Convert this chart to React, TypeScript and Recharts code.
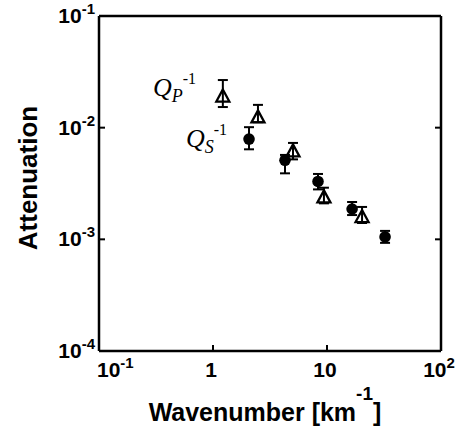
import React from 'react';
import { ScatterChart, Scatter, XAxis, YAxis, ErrorBar } from 'recharts';

// Q_P^-1 (open triangles)
const pWavenumber = [1.22, 2.48, 5.03, 9.4, 20.3];
const pAtten = [0.0192, 0.0125, 0.0062, 0.0024, 0.0016];
const pUpper = [0.0267, 0.016, 0.0073, 0.0029, 0.00195];
const pLower = [0.0153, 0.0112, 0.0052, 0.0021, 0.0014];

// Q_S^-1 (filled circles)
const sWavenumber = [2.07, 4.28, 8.34, 16.6, 32.3];
const sAtten = [0.0079, 0.0051, 0.0033, 0.00187, 0.00105];
const sUpper = [0.0101, 0.0057, 0.00385, 0.00216, 0.00119];
const sLower = [0.0064, 0.0039, 0.0028, 0.00165, 0.00093];

const xTicks = [0.1, 1, 10, 100];
const xTickBase = ['10', '1', '10', '10'];
const xTickSup = ['-1', '', '', '2'];
const yTicks = [0.0001, 0.001, 0.01, 0.1];
const yTickBase = ['10', '10', '10', '10'];
const yTickSup = ['-4', '-3', '-2', '-1'];

const pData = pWavenumber.map((k, i) => ({
  k,
  a: pAtten[i],
  err: [pAtten[i] - pLower[i], pUpper[i] - pAtten[i]],
}));
const sData = sWavenumber.map((k, i) => ({
  k,
  a: sAtten[i],
  err: [sAtten[i] - sLower[i], sUpper[i] - sAtten[i]],
}));

const SANS = '"Liberation Sans", Arial, Helvetica, sans-serif';
const SERIF = '"Liberation Serif", "Times New Roman", serif';

const BottomTick = ({ x, y, payload }: any) => {
  const i = xTicks.indexOf(payload.value);
  const first = i === 0;
  return (
    <g>
      <line x1={x} y1={y} x2={x} y2={y - 6} stroke="#000" strokeWidth={2} />
      <text
        x={first ? x - 2 : x - 2}
        y={y + 26}
        textAnchor={first ? 'start' : 'middle'}
        fontFamily={SANS}
        fontWeight="bold"
        fontSize={21}
        fill="#000"
      >
        {xTickBase[i]}
        {xTickSup[i] && (
          <tspan dy={-9} fontSize={15}>
            {xTickSup[i]}
          </tspan>
        )}
      </text>
    </g>
  );
};

const LeftTick = ({ x, y, payload }: any) => {
  const i = yTicks.indexOf(payload.value);
  return (
    <g>
      <line x1={x} y1={y} x2={x + 6} y2={y} stroke="#000" strokeWidth={2} />
      <text x={x - 4} y={y + 7} textAnchor="end" fontFamily={SANS} fontWeight="bold" fontSize={21} fill="#000">
        {yTickBase[i]}
        <tspan dy={-9} fontSize={15}>
          {yTickSup[i]}
        </tspan>
      </text>
    </g>
  );
};

const TopTick = ({ x, y }: any) => (
  <line x1={x} y1={y} x2={x} y2={y + 6} stroke="#000" strokeWidth={2} />
);

const RightTick = ({ x, y }: any) => (
  <line x1={x} y1={y} x2={x - 6} y2={y} stroke="#000" strokeWidth={2} />
);

const Triangle = (props: any) => {
  const { cx, cy } = props;
  return (
    <path
      d={`M${cx},${cy - 6.5}L${cx + 6.5},${cy + 5.5}L${cx - 6.5},${cy + 5.5}Z`}
      fill="none"
      stroke="#000"
      strokeWidth={2.3}
      strokeLinejoin="miter"
    />
  );
};

const Dot = (props: any) => {
  const { cx, cy } = props;
  return <circle cx={cx} cy={cy} r={5.8} fill="#000" />;
};

const frame = { stroke: '#000', strokeWidth: 2.5 };

export default function App() {
  return (
    <div style={{ position: 'absolute', left: 0, top: 0, width: 456, height: 430, background: '#fff' }}>
      <ScatterChart width={456} height={430} margin={{ top: 6, right: 5, bottom: 49, left: 59 }}>
        <XAxis
          xAxisId="b"
          type="number"
          dataKey="k"
          scale="log"
          domain={[0.1, 100]}
          allowDataOverflow
          ticks={xTicks}
          interval={0}
          height={30}
          tickSize={0}
          tickMargin={0}
          tickLine={false}
          axisLine={frame}
          tick={<BottomTick />}
        />
        <XAxis
          xAxisId="t"
          orientation="top"
          type="number"
          scale="log"
          domain={[0.1, 100]}
          allowDataOverflow
          ticks={[1, 10]}
          interval={0}
          height={10}
          tickSize={0}
          tickMargin={0}
          tickLine={false}
          axisLine={frame}
          tick={<TopTick />}
        />
        <YAxis
          yAxisId="l"
          type="number"
          dataKey="a"
          scale="log"
          domain={[0.0001, 0.1]}
          allowDataOverflow
          ticks={yTicks}
          interval={0}
          width={40}
          tickSize={0}
          tickMargin={0}
          tickLine={false}
          axisLine={frame}
          tick={<LeftTick />}
        />
        <YAxis
          yAxisId="r"
          orientation="right"
          type="number"
          scale="log"
          domain={[0.0001, 0.1]}
          allowDataOverflow
          ticks={[0.001, 0.01]}
          interval={0}
          width={10}
          tickSize={0}
          tickMargin={0}
          tickLine={false}
          axisLine={frame}
          tick={<RightTick />}
        />
        <Scatter xAxisId="b" yAxisId="l" data={pData} shape={<Triangle />} isAnimationActive={false}>
          <ErrorBar dataKey="err" direction="y" width={5} strokeWidth={2} stroke="#000" isAnimationActive={false} />
        </Scatter>
        <Scatter xAxisId="b" yAxisId="l" data={sData} shape={<Dot />} isAnimationActive={false}>
          <ErrorBar dataKey="err" direction="y" width={5} strokeWidth={2} stroke="#000" isAnimationActive={false} />
        </Scatter>
        <text
          x={37}
          y={178}
          transform="rotate(-90 37 178)"
          textAnchor="middle"
          fontFamily={SANS}
          fontWeight="bold"
          fontSize={26}
          fill="#000"
        >
          Attenuation
        </text>
        <text x={265} y={421} textAnchor="middle" fontFamily={SANS} fontWeight="bold" fontSize={25} fill="#000">
          Wavenumber [km
          <tspan dy={-21} fontSize={19}>
            -1
          </tspan>
          <tspan dy={21}>]</tspan>
        </text>
        <text x={153} y={96} fontFamily={SERIF} fontStyle="italic" fontSize={26} fill="#000">
          Q
          <tspan dy={6} fontSize={18}>
            P
          </tspan>
          <tspan dy={-18} fontSize={16} fontStyle="normal">
            -1
          </tspan>
        </text>
        <text x={186} y={147} fontFamily={SERIF} fontStyle="italic" fontSize={26} fill="#000">
          Q
          <tspan dy={6} fontSize={18}>
            S
          </tspan>
          <tspan dy={-18} fontSize={16} fontStyle="normal">
            -1
          </tspan>
        </text>
      </ScatterChart>
    </div>
  );
}
